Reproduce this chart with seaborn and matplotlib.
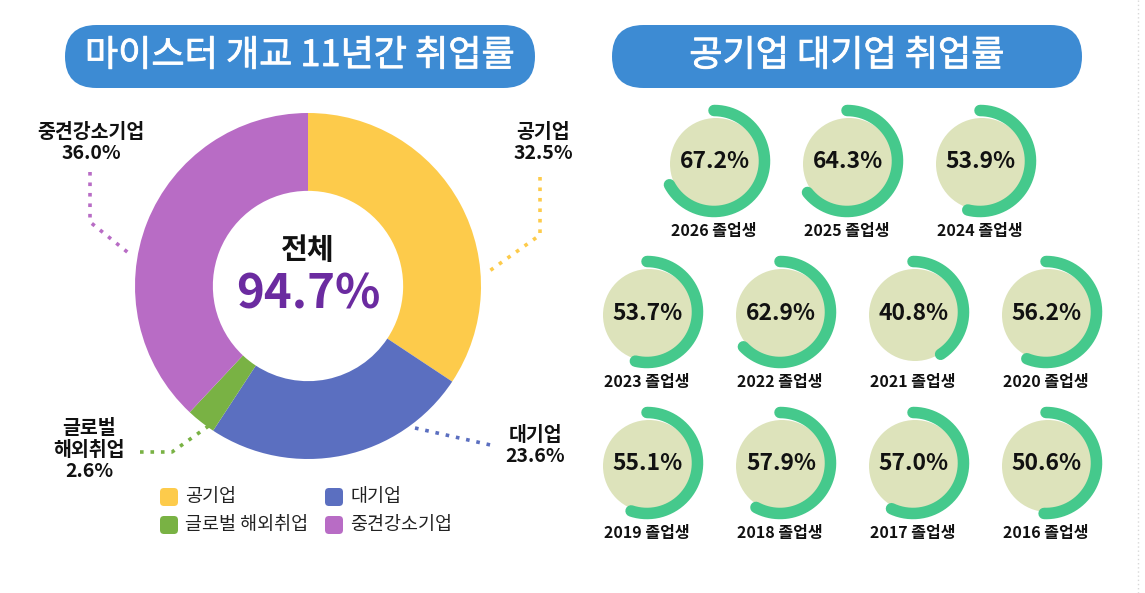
import numpy as np
import matplotlib
matplotlib.use('Agg')
import matplotlib.pyplot as plt
import matplotlib.patheffects as pe
from matplotlib.patches import FancyBboxPatch, Circle
import seaborn as sns

sns.set_theme(style='white')
plt.rcParams['font.family'] = ['Noto Sans CJK KR', 'DejaVu Sans']

W, H = 1145, 593

# donut data
sectors = ['공기업', '대기업', '글로벌 해외취업', '중견강소기업']
sector_share = [32.5, 23.6, 2.6, 36.0]
sector_callout = ['공기업', '대기업', '글로벌\n해외취업', '중견강소기업']
total_rate = 94.7

# gauge data
grad_years = [2026, 2025, 2024, 2023, 2022, 2021, 2020, 2019, 2018, 2017, 2016]
grad_rates = [67.2, 64.3, 53.9, 53.7, 62.9, 40.8, 56.2, 55.1, 57.9, 57.0, 50.6]

pal = ['#fdcb4b', '#5b6fc0', '#79b244', '#b86cc5']
pill_col = '#3d8bd3'
disc_col = '#dde3bb'
ring_col = '#45c98c'


def px_axes(fig, cx, cy, r):
    return fig.add_axes([(cx - r) / W, 1 - (cy + r) / H, 2 * r / W, 2 * r / H])


fig = plt.figure(figsize=(W / 100, H / 100), dpi=100)
fig.patch.set_facecolor('white')

base = fig.add_axes([0, 0, 1, 1])
base.set_xlim(0, W)
base.set_ylim(H, 0)
base.axis('off')

# title pills (regular weight thickened a little to look medium)
for x0, x1, title in [(65, 535, '마이스터 개교 11년간 취업률'), (612, 1082, '공기업 대기업 취업률')]:
    base.add_patch(FancyBboxPatch((x0, 25), x1 - x0, 63,
                                  boxstyle='round,pad=0,rounding_size=31.5',
                                  fc=pill_col, ec='none'))
    base.text((x0 + x1) / 2, 56, title, color='white', fontsize=26,
              ha='center', va='center',
              path_effects=[pe.withStroke(linewidth=0.6, foreground='white')])

# faint dotted border at right edge
base.plot([1138, 1138], [0, H], color='#d8d8d8', lw=1, ls=(0, (1, 2)))

# donut
dcx, dcy, dr = 308, 286, 173
dax = px_axes(fig, dcx, dcy, dr)
dax.pie(sector_share, colors=pal, startangle=90, counterclock=False,
        radius=1, wedgeprops=dict(width=0.45, linewidth=0))
dax.set_xlim(-1, 1)
dax.set_ylim(-1, 1)
dax.set_aspect('equal')
dax.axis('off')
dax.text(0, 0.21, '전체', fontsize=21, fontweight='bold', color='#111111',
         ha='center', va='center')
dax.text(0, -0.05, f'{total_rate}%', fontsize=34, fontweight='bold',
         color='#6b2ba0', ha='center', va='center')

# callouts: text position and dotted leader path (pixels)
callout_pos = [(543, 143), (535, 446), (89, 450), (91, 143)]
leader_paths = [
    ([540, 540, 488], [177, 235, 272]),
    ([415, 495], [428, 446]),
    ([140, 172, 210], [452, 452, 425]),
    ([90, 90, 131], [172, 222, 255]),
]
for i, name in enumerate(sector_callout):
    tx, ty = callout_pos[i]
    base.text(tx, ty, f'{name}\n{sector_share[i]:.1f}%', fontsize=14,
              fontweight='bold', color='#111111', ha='center', va='center',
              linespacing=1.15)
    lx, ly = leader_paths[i]
    base.plot(lx, ly, color=pal[i], lw=2.6, ls=(0, (1, 1.9)))

# legend
legend_slots = [(169, 497), (334, 497), (169, 525), (334, 525)]
for i, name in enumerate(sectors):
    sx, sy = legend_slots[i]
    base.add_patch(FancyBboxPatch((sx - 9, sy - 9), 18, 18,
                                  boxstyle='round,pad=0,rounding_size=4',
                                  fc=pal[i], ec='none'))
    base.text(sx + 16, sy, name, fontsize=13.3, color='#222222',
              ha='left', va='center')

# gauges
slots = [(714 + 133 * i, 161) for i in range(3)]
slots += [(647 + 133 * i, 312) for i in range(4)]
slots += [(647 + 133 * i, 463) for i in range(4)]
ring_r, ring_w, disc_r = 50.5, 11.5, 46
for (cx, cy), year, rate in zip(slots, grad_years, grad_rates):
    gax = px_axes(fig, cx, cy, 64)
    gax.set_xlim(-64, 64)
    gax.set_ylim(-64, 64)
    gax.set_aspect('equal')
    gax.axis('off')
    gax.add_patch(Circle((2, -3), disc_r, fc=disc_col, ec='none'))
    theta = np.linspace(0, rate / 100 * 2 * np.pi, 300)
    gax.plot(ring_r * np.sin(theta), ring_r * np.cos(theta), color=ring_col,
             lw=ring_w * 0.72, solid_capstyle='round')
    gax.text(1, -1, f'{rate:.1f}%', fontsize=16.5, fontweight='bold',
             color='#111111', ha='center', va='center')
    base.text(cx, cy + 70, f'{year} 졸업생', fontsize=11.5, fontweight='bold',
              color='#111111', ha='center', va='center')

fig.savefig('out.png', dpi=100, facecolor='white')
